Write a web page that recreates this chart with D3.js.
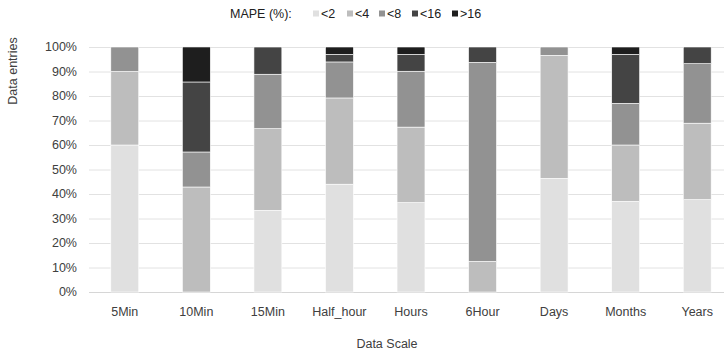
<!DOCTYPE html>
<html>
<head>
<meta charset="utf-8">
<script src="https://cdn.jsdelivr.net/npm/d3@7"></script>
<style>
  body { margin: 0; background: #fff; }
  svg { font-family: "Liberation Sans", Arial, sans-serif; }
</style>
</head>
<body>
<svg width="724" height="354"></svg>
<script>
// ---- data ----
let scales = ["5Min", "10Min", "15Min", "Half_hour", "Hours", "6Hour", "Days", "Months", "Years"];
let bins = ["<2", "<4", "<8", "<16", ">16"];
let lt2  = [60, 0,     33.33, 44.0, 36.5, 0,     46.4, 37, 37.7];
let lt4  = [30, 42.86, 33.33, 35.2, 30.8, 12.5,  50.2, 23, 31.2];
let lt8  = [10, 14.29, 22.22, 14.7, 22.8, 81.25, 3.4,  17, 24.3];
let lt16 = [0,  28.57, 11.11, 3.1,  6.9,  6.25,  0,    20, 6.8];
let gt16 = [0,  14.29, 0,     3.0,  3.0,  0,     0,    3,  0];
let yTicks = [0, 10, 20, 30, 40, 50, 60, 70, 80, 90, 100];

let colors = ["#e0e0e0", "#bdbdbd", "#929292", "#444444", "#1e1e1e"];

let rows = scales.map(function(s, i) {
  return {scale: s, "<2": lt2[i], "<4": lt4[i], "<8": lt8[i], "<16": lt16[i], ">16": gt16[i]};
});

let svg = d3.select("svg"),
    margin = {top: 47, right: -9, bottom: 62, left: 89},
    width = 724 - margin.left - margin.right,
    height = 354 - margin.top - margin.bottom;

let x = d3.scaleBand().domain(scales).range([0, width]).paddingInner(0.61).paddingOuter(0.305),
    y = d3.scaleLinear().domain([0, 100]).range([height, 0]),
    color = d3.scaleOrdinal().domain(bins).range(colors);

let g = svg.append("g")
  .attr("transform", "translate(" + margin.left + "," + margin.top + ")");

// gridlines
g.selectAll(".grid")
  .data(yTicks)
  .enter().append("line")
    .attr("x1", 0).attr("x2", width)
    .attr("y1", function(d) { return y(d) + 0.5; })
    .attr("y2", function(d) { return y(d) + 0.5; })
    .attr("stroke", function(d) { return d === 0 ? "#d6d6d6" : "#e2e2e2"; })
    .attr("stroke-width", 1);

// y tick labels
g.selectAll(".ylab")
  .data(yTicks)
  .enter().append("text")
    .attr("x", -12)
    .attr("y", function(d) { return y(d); })
    .attr("dy", "0.35em")
    .attr("text-anchor", "end")
    .attr("font-size", 12.5)
    .attr("fill", "#404040")
    .text(function(d) { return d + "%"; });

// stacked bars
let stack = d3.stack().keys(bins);
g.selectAll(".layer")
  .data(stack(rows))
  .enter().append("g")
    .attr("fill", function(d) { return color(d.key); })
  .selectAll("rect")
  .data(function(d) { return d; })
  .enter().append("rect")
    .attr("x", function(d) { return x(d.data.scale); })
    .attr("y", function(d) { return y(d[1]); })
    .attr("width", x.bandwidth())
    .attr("height", function(d) { return y(d[0]) - y(d[1]); })
    .attr("stroke", "#fff")
    .attr("stroke-width", 0.6);

// x tick labels
g.selectAll(".xlab")
  .data(scales)
  .enter().append("text")
    .attr("x", function(d) { return x(d) + x.bandwidth() / 2; })
    .attr("y", height + 24)
    .attr("text-anchor", "middle")
    .attr("font-size", 12.5)
    .attr("fill", "#404040")
    .text(function(d) { return d; });

// axis titles
svg.append("text")
  .attr("x", 387).attr("y", 348)
  .attr("text-anchor", "middle")
  .attr("font-size", 12.5)
  .attr("fill", "#404040")
  .text("Data Scale");

svg.append("text")
  .attr("transform", "translate(17,71) rotate(-90)")
  .attr("text-anchor", "middle")
  .attr("font-size", 12.5)
  .attr("fill", "#404040")
  .text("Data entries");

// legend
let legend = svg.append("g");
legend.append("text")
  .attr("x", 230).attr("y", 18)
  .attr("font-size", 12.5)
  .attr("fill", "#202020")
  .text("MAPE (%):");

let legX = [313, 347, 379, 412, 452];
let items = legend.selectAll(".item")
  .data(bins)
  .enter().append("g")
    .attr("transform", function(d, i) { return "translate(" + legX[i] + ",0)"; });
items.append("rect")
  .attr("x", 0).attr("y", 10.5)
  .attr("width", 6).attr("height", 6)
  .attr("fill", function(d) { return color(d); });
items.append("text")
  .attr("x", 8).attr("y", 18)
  .attr("font-size", 12.5)
  .attr("fill", "#202020")
  .text(function(d) { return d; });
</script>
</body>
</html>
